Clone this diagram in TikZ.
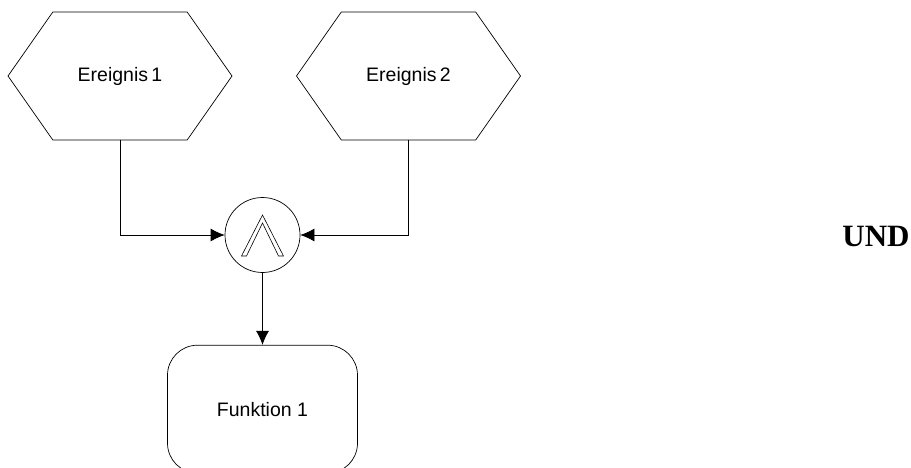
\documentclass[tikz,border=0pt]{standalone}
\usepackage{fontspec}
\setmainfont{Liberation Sans}
\newfontfamily\undfont{Liberation Serif}
\usetikzlibrary{positioning}
\usetikzlibrary{arrows.meta}
\usetikzlibrary{shapes.symbols}

\begin{document}
\begin{tikzpicture}[
    x=1pt, y=-1pt, line width=0.7pt,
    ereignis/.style={signal, signal to=west and east, signal pointer angle=110, draw, minimum width=224pt, minimum height=128pt, inner sep=0pt, font=\fontsize{19.5}{21}\selectfont},
    funktion/.style={draw, rounded corners=30pt, minimum width=190pt, minimum height=128pt, font=\fontsize{19.5}{21}\selectfont},
    verkn/.style={circle, draw, minimum size=75pt, inner sep=0pt},
    pfeil/.style={-{Latex[length=14pt, width=13pt]}}
  ]
  \useasboundingbox (0,0) rectangle (911,468);
  \clip (0,0) rectangle (911,468);

  \node[ereignis] (e1) at (120,76) {Ereignis\,1};
  \node[ereignis] (e2) at (408.5,76) {Ereignis\,2};

  \node[verkn] (und) at (262.5,235) {};
  \draw[shift={(und.center)}, line width=0.6pt] (-21,21) -- (0,-20) -- (21,21) -- (16,21) -- (0,-12) -- (-16,21) -- cycle;

  \node[funktion, below=72pt of und] (f1) {Funktion 1};

  \node[font=\undfont\bfseries\fontsize{31}{33}\selectfont] (lbl) at (876,236) {UND};

  \draw[pfeil] (e1.south) |- (und.west);
  \draw[pfeil] (e2.south) |- (und.east);
  \draw[pfeil] (und.south) -- (f1.north);

\end{tikzpicture}
\end{document}
